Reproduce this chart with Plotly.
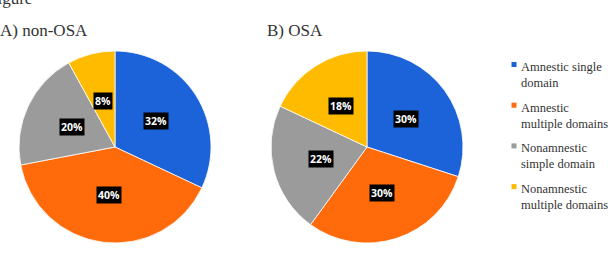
import math
import plotly.graph_objects as go

categories = ["Amnestic single<br>domain", "Amnestic<br>multiple domains",
              "Nonamnestic<br>simple domain", "Nonamnestic<br>multiple domains"]
non_osa = [32, 40, 20, 8]
osa = [30, 30, 22, 18]
colors = ["#1C63D9", "#FF6A0A", "#9B9B9B", "#FFBB00"]

W, H = 611, 259
R_PX = 96
centers = [(115, 147), (367, 147)]  # pixel centres of the two pies

fig = go.Figure()
annotations = []
shapes = []
for i, (vals, (cx, cy)) in enumerate(zip([non_osa, osa], centers)):
    dom_x = [(cx - R_PX) / W, (cx + R_PX) / W]
    dom_y = [(H - cy - R_PX) / H, (H - cy + R_PX) / H]
    fig.add_trace(go.Pie(
        labels=categories, values=vals, sort=False, direction="clockwise",
        rotation=0, textinfo="none", hoverinfo="label+percent",
        marker=dict(colors=colors, line=dict(color="white", width=0.8)),
        domain=dict(x=dom_x, y=dom_y), showlegend=False,
    ))
    total = sum(vals)
    cum = 0
    for v in vals:
        mid = (cum + v / 2) / total * 2 * math.pi
        cum += v
        px = cx + 0.5 * R_PX * math.sin(mid)
        py = cy - 0.5 * R_PX * math.cos(mid)
        annotations.append(dict(
            x=px / W, y=1 - py / H, xref="paper", yref="paper",
            text=f"<b>{round(v / total * 100)}%</b>", showarrow=False,
            font=dict(family="Open Sans", size=10.5, color="white"),
            bgcolor="black", borderpad=1, xanchor="center", yanchor="middle",
        ))

serif = "Liberation Serif"
annotations += [
    dict(x=-14 / W, y=1 - 10 / H, xref="paper", yref="paper", text="Figure",
         showarrow=False, xanchor="left", yanchor="bottom",
         font=dict(family=serif, size=17, color="#333333")),
    dict(x=-2 / W, y=1 - 42 / H, xref="paper", yref="paper", text="A) non-OSA",
         showarrow=False, xanchor="left", yanchor="bottom",
         font=dict(family=serif, size=17, color="#333333")),
    dict(x=265 / W, y=1 - 42 / H, xref="paper", yref="paper", text="B) OSA",
         showarrow=False, xanchor="left", yanchor="bottom",
         font=dict(family=serif, size=17, color="#333333")),
]

# manual legend (small squares + two-line labels)
for k, (lab, col) in enumerate(zip(categories, colors)):
    top = 58 + 40.7 * k
    shapes.append(dict(type="rect", xref="paper", yref="paper",
                       x0=511.5 / W, x1=516.5 / W,
                       y0=1 - (top + 4) / H, y1=1 - (top + 9) / H,
                       fillcolor=col, line=dict(width=0)))
    annotations.append(dict(x=519 / W, y=1 - top / H, xref="paper", yref="paper",
                            text=lab, showarrow=False, xanchor="left", yanchor="top",
                            align="left",
                            font=dict(family=serif, size=12.5, color="#333333")))

fig.update_layout(
    width=W, height=H, margin=dict(l=0, r=0, t=0, b=0),
    paper_bgcolor="white", plot_bgcolor="white",
    annotations=annotations, shapes=shapes, showlegend=False,
)

fig.write_html("out.html")
